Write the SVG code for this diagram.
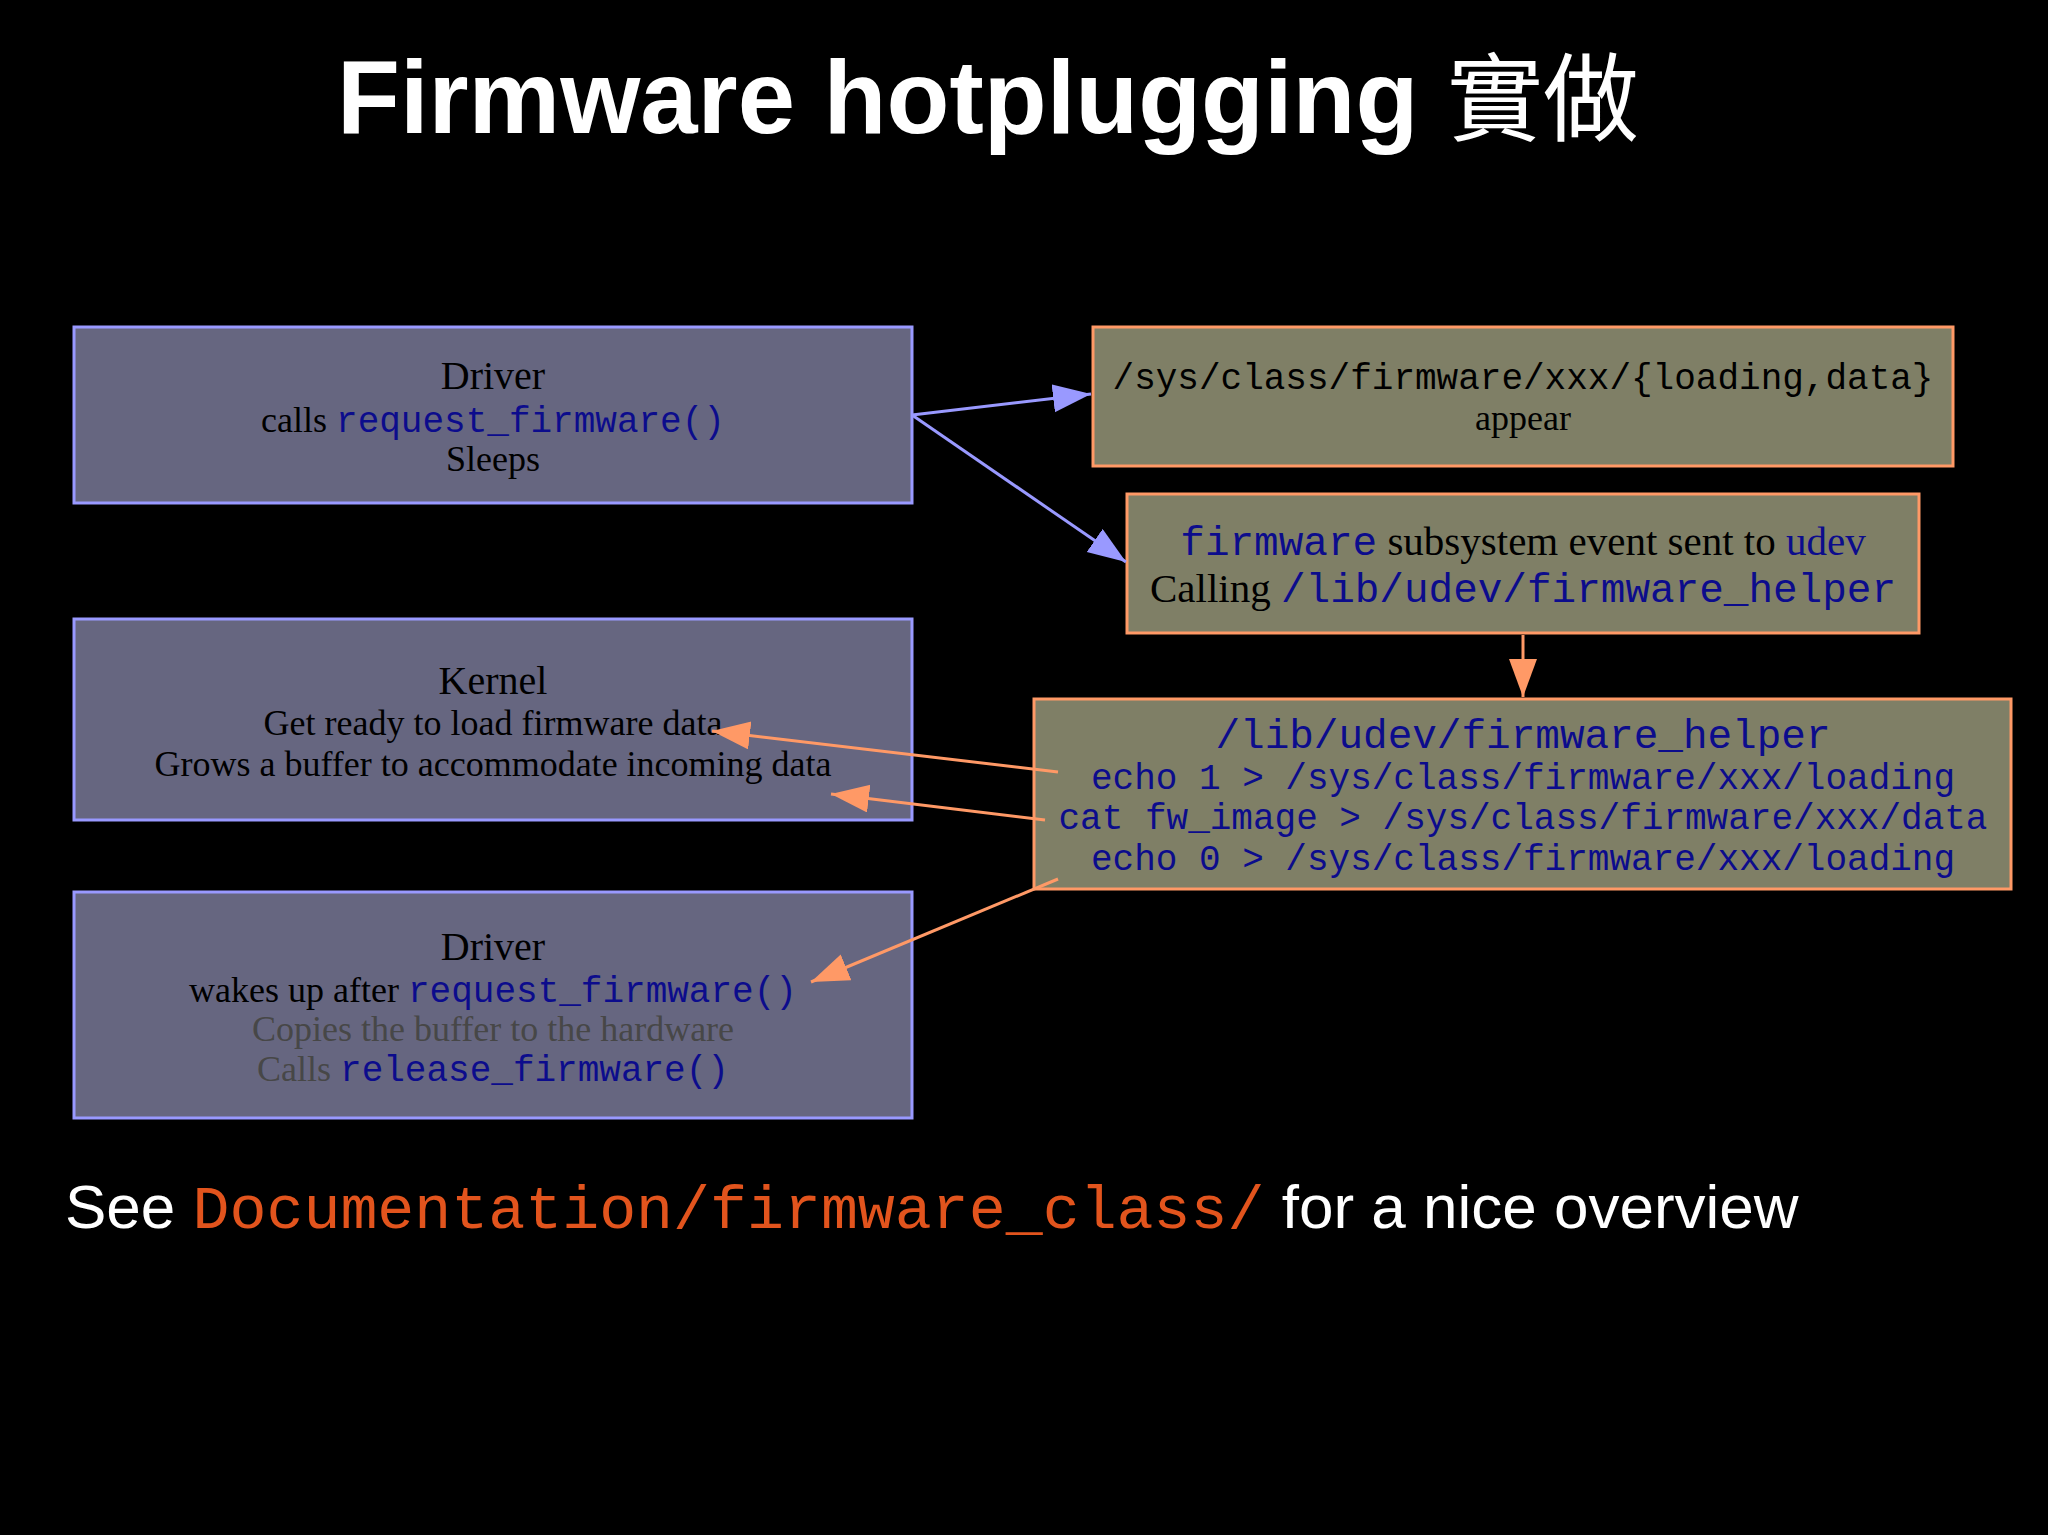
<svg xmlns="http://www.w3.org/2000/svg" width="2048" height="1535" viewBox="0 0 2048 1535">
<defs>
<style>
.kbox{fill:#666680;stroke:#9999ff;stroke-width:3}
.ubox{fill:#7f7f66;stroke:#ff9966;stroke-width:3}
.serif{font-family:"Liberation Serif","Times New Roman",serif;fill:#000}
.mono{font-family:"Liberation Mono","Courier New",monospace}
.code{fill:#0c0c8c}
.gray{fill:#474747}
.pl{stroke:#9999ff;stroke-width:3;fill:none}
.ol{stroke:#ff9966;stroke-width:3;fill:none}
</style>
<marker id="ap" markerUnits="userSpaceOnUse" markerWidth="40" markerHeight="30" refX="38" refY="14" orient="auto">
<path d="M0,0 L38,14 L0,28 z" fill="#9999ff"/>
</marker>
<marker id="ao" markerUnits="userSpaceOnUse" markerWidth="40" markerHeight="30" refX="38" refY="14" orient="auto">
<path d="M0,0 L38,14 L0,28 z" fill="#ff9966"/>
</marker>
</defs>
<rect width="2048" height="1535" fill="#000"/>
<text x="337" y="133" font-family="'Liberation Sans',Arial,'Noto Sans CJK TC',sans-serif" font-weight="bold" font-size="103" fill="#fff">Firmware hotplugging <tspan font-family="'Noto Sans CJK TC',sans-serif" font-weight="normal" font-size="96">實做</tspan></text>

<g id="driver1">
<rect class="kbox" x="74" y="327" width="838" height="176"/>
<text class="serif" x="493" y="389" font-size="40" text-anchor="middle">Driver</text>
<text class="serif" x="493" y="432" font-size="36" text-anchor="middle">calls <tspan class="mono code">request_firmware()</tspan></text>
<text class="serif" x="493" y="471" font-size="36" text-anchor="middle">Sleeps</text>
</g>

<g id="kernel">
<rect class="kbox" x="74" y="619" width="838" height="201"/>
<text class="serif" x="493" y="694" font-size="40" text-anchor="middle">Kernel</text>
<text class="serif" x="493" y="735" font-size="36" text-anchor="middle">Get ready to load firmware data</text>
<text class="serif" x="493" y="776" font-size="36" text-anchor="middle">Grows a buffer to accommodate incoming data</text>
</g>

<g id="driver2">
<rect class="kbox" x="74" y="892" width="838" height="226"/>
<text class="serif" x="493" y="960" font-size="40" text-anchor="middle">Driver</text>
<text class="serif" x="493" y="1002" font-size="36" text-anchor="middle">wakes up after <tspan class="mono code">request_firmware()</tspan></text>
<text class="serif gray" x="493" y="1041" font-size="36" text-anchor="middle">Copies the buffer to the hardware</text>
<text class="serif gray" x="493" y="1081" font-size="36" text-anchor="middle">Calls <tspan class="mono code">release_firmware()</tspan></text>
</g>

<g id="sysfs">
<rect class="ubox" x="1093" y="327" width="860" height="139"/>
<text class="mono" x="1523" y="389" font-size="36" text-anchor="middle" fill="#000">/sys/class/firmware/xxx/{loading,data}</text>
<text class="serif" x="1523" y="430" font-size="36" text-anchor="middle">appear</text>
</g>

<g id="event">
<rect class="ubox" x="1127" y="494" width="792" height="139"/>
<text class="serif" x="1523" y="555" font-size="41" text-anchor="middle"><tspan class="mono code">firmware</tspan> subsystem event sent to <tspan class="code">udev</tspan></text>
<text class="serif" x="1523" y="602" font-size="41" text-anchor="middle">Calling <tspan class="mono code">/lib/udev/firmware_helper</tspan></text>
</g>

<g id="helper">
<rect class="ubox" x="1034" y="699" width="977" height="190"/>
<text class="mono code" x="1523" y="748" font-size="41" text-anchor="middle">/lib/udev/firmware_helper</text>
<text class="mono code" x="1523" y="789" font-size="36" text-anchor="middle">echo 1 &gt; /sys/class/firmware/xxx/loading</text>
<text class="mono code" x="1523" y="829" font-size="36" text-anchor="middle">cat fw_image &gt; /sys/class/firmware/xxx/data</text>
<text class="mono code" x="1523" y="870" font-size="36" text-anchor="middle">echo 0 &gt; /sys/class/firmware/xxx/loading</text>
</g>

<g id="connectors">
<line class="pl" x1="912" y1="415" x2="1091" y2="394" marker-end="url(#ap)"/>
<line class="pl" x1="912" y1="415" x2="1126" y2="562" marker-end="url(#ap)"/>
<line class="ol" x1="1523" y1="635" x2="1523" y2="697" marker-end="url(#ao)"/>
<line class="ol" x1="1058" y1="772" x2="712" y2="731" marker-end="url(#ao)"/>
<line class="ol" x1="1045" y1="820" x2="831" y2="794" marker-end="url(#ao)"/>
<line class="ol" x1="1058" y1="879" x2="811" y2="982" marker-end="url(#ao)"/>
</g>

<text x="65" y="1228" font-family="'Liberation Sans',Arial,sans-serif" font-size="62" fill="#fff">See <tspan font-family="'Liberation Mono','Courier New',monospace" font-size="61.6" fill="#e2541d">Documentation/firmware_class/</tspan> for a nice overview</text>
</svg>
